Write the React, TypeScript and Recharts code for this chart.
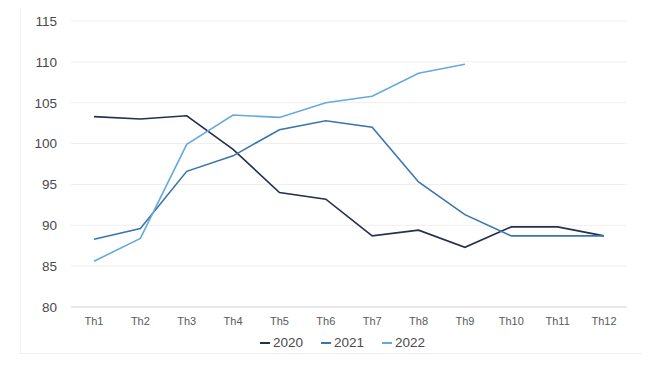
import React from "react";
import { CartesianGrid, Line, LineChart, XAxis, YAxis } from "recharts";

const months = ["Th1", "Th2", "Th3", "Th4", "Th5", "Th6", "Th7", "Th8", "Th9", "Th10", "Th11", "Th12"];
const y2020 = [103.3, 103.0, 103.4, 99.3, 94.0, 93.2, 88.7, 89.4, 87.3, 89.8, 89.8, 88.7];
const y2021 = [88.3, 89.6, 96.6, 98.5, 101.7, 102.8, 102.0, 95.3, 91.3, 88.7, 88.7, 88.7];
const y2022 = [85.6, 88.4, 99.9, 103.5, 103.2, 105.0, 105.8, 108.6, 109.7];
const yTicks = [80, 85, 90, 95, 100, 105, 110, 115];

const series = [
  { key: "2020", color: "#25304f", width: 1.6 },
  { key: "2021", color: "#3a75ad", width: 1.6 },
  { key: "2022", color: "#66a9dc", width: 1.6 },
];

const data = months.map((m, i) => ({
  month: m,
  "2020": y2020[i],
  "2021": y2021[i],
  "2022": y2022[i] ?? null,
}));

const font = "'Liberation Sans', Arial, sans-serif";

export default function App() {
  return (
    <div style={{ position: "relative", width: 650, height: 366, margin: -8, background: "#fff", fontFamily: font }}>
      <div
        style={{
          position: "absolute",
          left: 20,
          top: 6,
          width: 640,
          height: 347,
          borderLeft: "1px solid #f0f0f0",
          borderBottom: "1px solid #f0f0f0",
        }}
      />
      <LineChart
        width={650}
        height={366}
        data={data}
        margin={{ top: 21, right: 23, bottom: 29, left: 0 }}
        style={{ position: "absolute", left: 0, top: 0 }}
      >
        <CartesianGrid vertical={false} stroke="#eeeeee" />
        <XAxis
          dataKey="month"
          height={30}
          padding={{ left: 23, right: 23 }}
          tickLine={false}
          axisLine={{ stroke: "#d9d9d9" }}
          tick={{ fill: "#595959", fontSize: 11, fontFamily: font }}
          tickMargin={4}
        />
        <YAxis
          width={71}
          domain={[80, 115]}
          ticks={yTicks}
          tickLine={false}
          axisLine={false}
          tick={{ fill: "#4a4a4a", fontSize: 13.5, fontFamily: font }}
          tickMargin={8}
        />
        {series.map((s) => (
          <Line
            key={s.key}
            type="linear"
            dataKey={s.key}
            stroke={s.color}
            strokeWidth={s.width}
            dot={false}
            activeDot={false}
            connectNulls={false}
            isAnimationActive={false}
          />
        ))}
      </LineChart>
      <div
        style={{
          position: "absolute",
          left: 260,
          top: 334,
          display: "flex",
          gap: 18,
          fontSize: 13.5,
          color: "#4a4a4a",
          lineHeight: "18px",
        }}
      >
        {series.map((s) => (
          <div key={s.key} style={{ display: "flex", alignItems: "center" }}>
            <span style={{ display: "inline-block", width: 10, height: 2, background: s.color, marginRight: 3 }} />
            <span>{s.key}</span>
          </div>
        ))}
      </div>
    </div>
  );
}
